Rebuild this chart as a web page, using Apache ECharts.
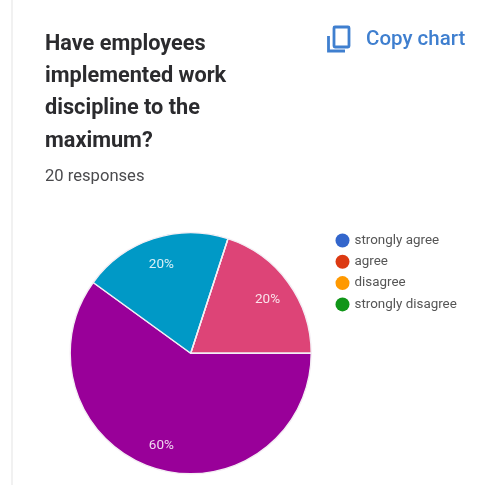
<!DOCTYPE html>
<html>
<head>
<meta charset="utf-8">
<style>html,body{margin:0;padding:0;background:#fff}#chart{width:493px;height:485px}</style>
<script src="https://cdn.jsdelivr.net/npm/echarts@6/dist/echarts.min.js"></script>
</head>
<body>
<div id="chart"></div>
<script>
// Survey answers and their response shares (percent)
const categories = ['strongly agree', 'agree', 'disagree', 'strongly disagree'];
const shares = [20, 60, 20, 0];
const sliceColors = ['#DD4477', '#990099', '#0099C6', '#109618'];
const legendColors = ['#3366CC', '#DC3912', '#FF9900', '#109618'];
const titleLines = ['Have employees', 'implemented work', 'discipline to the', 'maximum?'];
const subtitle = '20 responses';
const FONT = 'Roboto, sans-serif';

const chart = echarts.init(document.getElementById('chart'), null, { renderer: 'canvas' });

const pieData = categories.map((name, i) => ({
  name,
  value: shares[i],
  itemStyle: { color: sliceColors[i] }
}));

const labelData = categories.map((name, i) => ({
  name,
  value: shares[i],
  label: { show: shares[i] > 0 }
}));

chart.setOption({
  backgroundColor: '#fff',
  animation: false,
  title: [
    {
      text: titleLines.join('\n'),
      left: 45, top: 28, padding: 0,
      textStyle: { fontFamily: FONT, fontSize: 21.7, fontWeight: 700, color: '#2b2b2e', lineHeight: 32.4 }
    },
    {
      text: subtitle,
      left: 45, top: 168, padding: 0,
      textStyle: { fontFamily: FONT, fontSize: 16.6, fontWeight: 400, color: '#4a4a4d' }
    }
  ],
  legend: {
    orient: 'vertical',
    left: 335.5, top: 233.5, padding: 0,
    icon: 'circle',
    itemWidth: 14, itemHeight: 14, itemGap: 7.3,
    selectedMode: false,
    textStyle: { fontFamily: FONT, fontSize: 13.4, color: '#555', padding: [0, 0, 0, 0] },
    data: categories.map((name, i) => ({ name, itemStyle: { color: legendColors[i], borderWidth: 0 } }))
  },
  series: [
    {
      type: 'pie',
      center: [190.7, 353.3],
      radius: [0, 120.5],
      startAngle: 72,
      silent: true,
      label: { show: false },
      labelLine: { show: false },
      itemStyle: { borderColor: '#f4eef4', borderWidth: 1.4 },
      data: pieData
    },
    {
      // Transparent ring that carries the percent labels at the outer part of each slice
      type: 'pie',
      center: [190.7, 353.3],
      radius: [64, 120],
      startAngle: 72,
      silent: true,
      itemStyle: { color: 'transparent', borderWidth: 0 },
      label: {
        position: 'inside',
        formatter: '{c}%',
        fontFamily: FONT,
        fontSize: 13.5,
        offset: [0, 2],
        color: 'rgba(255,255,255,0.85)'
      },
      labelLine: { show: false },
      data: labelData
    }
  ],
  graphic: [
    // Left page edge
    { type: 'line', shape: { x1: 12, y1: 0, x2: 12, y2: 485 }, style: { stroke: '#e3e3e3', lineWidth: 1 } },
    // "Copy" icon: front sheet and the sheet behind it
    { type: 'rect', shape: { x: 334, y: 27, width: 15, height: 20, r: 1 }, style: { fill: 'none', stroke: '#3F7FCF', lineWidth: 2.8 } },
    { type: 'polyline', shape: { points: [[328.5, 36], [328.5, 51], [345, 51]] }, style: { fill: 'none', stroke: '#3F7FCF', lineWidth: 2.8 } },
    { type: 'text', style: { text: 'Copy chart', x: 366, y: 40, verticalAlign: 'middle', font: '500 20.5px Roboto, sans-serif', fill: '#3F7FCF' } }
  ]
});
</script>
</body>
</html>
